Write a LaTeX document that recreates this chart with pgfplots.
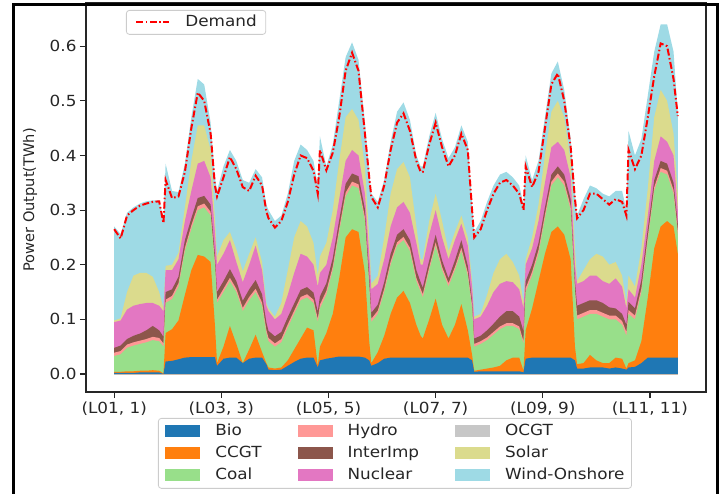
\documentclass[border=0pt]{standalone}
\usepackage{fontspec}
\setmainfont{DejaVu Sans}
\newfontfamily\wfont{DejaVu Sans}[FakeStretch=1.1]
\usepackage{pgfplots}
\usepackage{pgfplotstable}
\pgfplotsset{compat=1.18}
\definecolor{cBio}{HTML}{1F77B4}
\definecolor{cCCGT}{HTML}{FF7F0E}
\definecolor{cCoal}{HTML}{98DF8A}
\definecolor{cHydro}{HTML}{FF9896}
\definecolor{cInter}{HTML}{8C564B}
\definecolor{cNuc}{HTML}{E377C2}
\definecolor{cOCGT}{HTML}{C7C7C7}
\definecolor{cSolar}{HTML}{DBDB8D}
\definecolor{cWind}{HTML}{9EDAE5}
% cumulative tops of the stacked layers (TWh) and demand
\pgfplotstableread{
i bio ccgt coal hydro inter nuc sol wind dem
0 0.002 0.004 0.033 0.039 0.048 0.095 0.098 0.270 0.265
3 0.002 0.004 0.036 0.042 0.052 0.098 0.102 0.256 0.248
6 0.002 0.005 0.048 0.054 0.064 0.118 0.150 0.295 0.290
9 0.002 0.005 0.052 0.058 0.070 0.125 0.180 0.305 0.300
12 0.003 0.006 0.055 0.061 0.074 0.128 0.185 0.312 0.308
15 0.003 0.006 0.058 0.064 0.080 0.130 0.185 0.316 0.312
18 0.003 0.007 0.062 0.068 0.088 0.130 0.178 0.318 0.315
21 0.003 0.006 0.060 0.066 0.080 0.125 0.150 0.318 0.316
23 0.000 0.001 0.050 0.056 0.068 0.115 0.120 0.282 0.276
24 0.023 0.075 0.130 0.136 0.150 0.190 0.198 0.385 0.355
27 0.024 0.082 0.137 0.143 0.155 0.190 0.200 0.335 0.322
30 0.027 0.098 0.160 0.166 0.178 0.210 0.222 0.333 0.325
33 0.030 0.145 0.225 0.231 0.245 0.280 0.305 0.385 0.370
36 0.031 0.190 0.265 0.272 0.285 0.335 0.390 0.470 0.450
39 0.031 0.218 0.300 0.307 0.322 0.385 0.455 0.540 0.515
42 0.031 0.215 0.305 0.312 0.326 0.390 0.455 0.530 0.500
45 0.031 0.205 0.290 0.297 0.310 0.360 0.410 0.460 0.440
47 0.031 0.090 0.200 0.206 0.220 0.260 0.285 0.360 0.345
48 0.015 0.020 0.130 0.136 0.150 0.200 0.215 0.335 0.325
51 0.028 0.050 0.150 0.156 0.170 0.220 0.245 0.380 0.360
54 0.030 0.088 0.170 0.176 0.192 0.245 0.260 0.410 0.397
57 0.030 0.055 0.150 0.156 0.170 0.205 0.228 0.390 0.375
60 0.020 0.020 0.115 0.121 0.134 0.168 0.188 0.355 0.342
63 0.028 0.045 0.135 0.141 0.155 0.200 0.220 0.350 0.335
66 0.030 0.072 0.150 0.156 0.172 0.235 0.250 0.375 0.363
69 0.030 0.040 0.125 0.131 0.146 0.190 0.205 0.360 0.345
71 0.018 0.020 0.075 0.081 0.095 0.125 0.130 0.310 0.298
72 0.008 0.012 0.060 0.066 0.079 0.115 0.120 0.300 0.285
75 0.007 0.010 0.050 0.056 0.069 0.100 0.105 0.280 0.268
78 0.008 0.012 0.058 0.064 0.077 0.110 0.130 0.290 0.280
81 0.015 0.025 0.085 0.091 0.104 0.145 0.190 0.330 0.315
84 0.022 0.045 0.110 0.116 0.129 0.185 0.250 0.390 0.365
87 0.028 0.065 0.135 0.141 0.154 0.220 0.280 0.420 0.400
90 0.030 0.085 0.140 0.146 0.159 0.215 0.270 0.410 0.395
93 0.030 0.080 0.130 0.136 0.149 0.200 0.240 0.390 0.372
95 0.012 0.015 0.095 0.101 0.114 0.160 0.180 0.345 0.330
96 0.025 0.050 0.120 0.127 0.142 0.185 0.215 0.435 0.410
99 0.028 0.075 0.145 0.152 0.166 0.200 0.240 0.380 0.373
102 0.030 0.110 0.190 0.197 0.212 0.250 0.300 0.420 0.405
105 0.032 0.175 0.260 0.267 0.282 0.320 0.390 0.500 0.470
108 0.032 0.250 0.325 0.332 0.348 0.390 0.470 0.580 0.555
111 0.032 0.265 0.345 0.352 0.367 0.410 0.485 0.607 0.588
114 0.032 0.260 0.340 0.347 0.362 0.400 0.465 0.575 0.555
117 0.030 0.185 0.280 0.287 0.302 0.330 0.380 0.460 0.440
119 0.025 0.060 0.160 0.167 0.182 0.220 0.250 0.370 0.360
120 0.015 0.020 0.095 0.101 0.112 0.155 0.165 0.330 0.324
123 0.020 0.040 0.110 0.116 0.127 0.165 0.180 0.315 0.305
126 0.028 0.070 0.150 0.156 0.168 0.210 0.250 0.355 0.345
129 0.030 0.110 0.200 0.206 0.220 0.270 0.330 0.425 0.410
132 0.030 0.140 0.235 0.241 0.255 0.305 0.375 0.480 0.460
135 0.030 0.152 0.245 0.251 0.265 0.315 0.388 0.497 0.477
138 0.030 0.130 0.225 0.231 0.245 0.295 0.360 0.465 0.445
141 0.030 0.090 0.170 0.176 0.190 0.240 0.270 0.400 0.390
143 0.030 0.070 0.150 0.156 0.168 0.200 0.210 0.380 0.370
144 0.030 0.065 0.140 0.146 0.158 0.200 0.210 0.380 0.370
147 0.030 0.100 0.190 0.196 0.208 0.255 0.280 0.435 0.420
150 0.030 0.138 0.235 0.241 0.255 0.300 0.330 0.478 0.460
153 0.030 0.090 0.190 0.196 0.208 0.250 0.280 0.430 0.415
156 0.030 0.065 0.160 0.166 0.175 0.210 0.225 0.395 0.380
159 0.030 0.090 0.190 0.196 0.208 0.245 0.260 0.415 0.400
162 0.030 0.128 0.225 0.231 0.245 0.275 0.290 0.455 0.440
165 0.030 0.080 0.180 0.186 0.198 0.235 0.250 0.425 0.410
167 0.025 0.035 0.120 0.126 0.135 0.160 0.170 0.310 0.300
168 0.004 0.006 0.050 0.055 0.065 0.100 0.105 0.260 0.250
171 0.005 0.008 0.055 0.060 0.070 0.105 0.110 0.280 0.265
174 0.005 0.010 0.062 0.067 0.080 0.125 0.145 0.315 0.300
177 0.005 0.012 0.072 0.077 0.092 0.150 0.185 0.345 0.330
180 0.005 0.015 0.082 0.087 0.105 0.165 0.210 0.365 0.350
183 0.005 0.025 0.088 0.093 0.115 0.170 0.220 0.370 0.355
186 0.005 0.030 0.088 0.093 0.115 0.168 0.205 0.360 0.345
189 0.005 0.030 0.082 0.087 0.105 0.155 0.180 0.345 0.330
191 0.003 0.006 0.055 0.060 0.078 0.120 0.130 0.310 0.300
192 0.028 0.080 0.150 0.157 0.170 0.200 0.210 0.400 0.380
195 0.030 0.120 0.180 0.187 0.200 0.230 0.250 0.355 0.342
198 0.030 0.170 0.220 0.227 0.240 0.280 0.310 0.390 0.370
201 0.030 0.220 0.285 0.292 0.305 0.350 0.400 0.470 0.450
204 0.030 0.260 0.345 0.352 0.365 0.415 0.480 0.550 0.530
207 0.030 0.270 0.360 0.367 0.380 0.425 0.500 0.572 0.550
210 0.030 0.255 0.345 0.352 0.365 0.410 0.470 0.520 0.500
213 0.030 0.210 0.300 0.307 0.320 0.360 0.390 0.430 0.415
215 0.025 0.050 0.150 0.157 0.170 0.200 0.230 0.330 0.320
216 0.010 0.018 0.100 0.107 0.125 0.165 0.170 0.290 0.285
219 0.010 0.020 0.105 0.112 0.130 0.170 0.190 0.320 0.300
222 0.012 0.035 0.110 0.117 0.135 0.180 0.210 0.345 0.330
225 0.012 0.025 0.110 0.117 0.135 0.180 0.220 0.340 0.330
228 0.012 0.020 0.105 0.112 0.130 0.170 0.215 0.330 0.320
231 0.010 0.020 0.100 0.107 0.122 0.165 0.200 0.325 0.310
234 0.012 0.030 0.100 0.107 0.120 0.175 0.205 0.335 0.320
237 0.010 0.028 0.090 0.097 0.110 0.160 0.180 0.335 0.315
239 0.008 0.010 0.070 0.077 0.090 0.120 0.130 0.300 0.290
240 0.012 0.020 0.110 0.117 0.132 0.155 0.180 0.445 0.410
243 0.013 0.025 0.100 0.107 0.120 0.140 0.160 0.400 0.375
246 0.020 0.060 0.150 0.157 0.172 0.200 0.230 0.430 0.400
249 0.030 0.140 0.245 0.252 0.266 0.290 0.340 0.510 0.470
252 0.030 0.230 0.335 0.342 0.355 0.390 0.470 0.590 0.545
255 0.030 0.270 0.370 0.377 0.390 0.435 0.520 0.640 0.605
258 0.030 0.280 0.365 0.372 0.385 0.425 0.500 0.640 0.600
261 0.030 0.270 0.330 0.337 0.350 0.400 0.440 0.590 0.540
263 0.030 0.220 0.255 0.262 0.275 0.300 0.330 0.478 0.472
}\gen

\begin{document}
\begin{tikzpicture}
\useasboundingbox (-86bp,-102bp) rectangle (636bp,392bp);
\begin{axis}[
  at={(0bp,0bp)}, anchor=south west, scale only axis,
  width=620bp, height=389bp,
  xmin=-13.15, xmax=276.15, ymin=-0.0329, ymax=0.679,
  axis line style={line width=1.1bp, black!85},
  tick align=outside, tick pos=left, major tick length=6bp,
  every tick/.style={line width=1.1bp, black!85},
  xtick={0,50,100,150,200,250},
  xticklabels={{(L01, 1)},{(L03, 3)},{(L05, 5)},{(L07, 7)},{(L09, 9)},{(L11, 11)}},
  ytick={0,0.1,0.2,0.3,0.4,0.5,0.6},
  yticklabels={0.0,0.1,0.2,0.3,0.4,0.5,0.6},
  /pgf/number format/assume math mode=true,
  tick label style={font=\wfont\fontsize{15.3bp}{18bp}\selectfont, text=black!85},
  ylabel={Power Output(TWh)},
  ylabel style={at={(axis description cs:-0.0903,0.494)}, anchor=center, font=\fontsize{14.6bp}{17bp}\selectfont, text=black!85},
  legend image code/.code={\fill[#1, draw=none, sharp corners] (0bp,-6bp) rectangle (35bp,6bp);},
  legend columns=3, transpose legend, legend cell align=left,
  legend style={
    at={(axis description cs:0.1161,-0.0668)}, anchor=north west,
    draw=black!20, line width=0.8bp, fill=white, rounded corners=3bp,
    inner xsep=7bp, inner ysep=6bp,
    font=\wfont\fontsize{15.3bp}{18bp}\selectfont, text=black!85,
    nodes={inner sep=0bp, text height=11bp, text depth=3bp},
    row sep=8bp,
    /tikz/every odd column/.append style={column sep=15bp},
    /tikz/every even column/.append style={column sep=36bp},
  },
]
\addplot[fill=cWind, draw=none, forget plot] table[x=i, y=wind]{\gen} \closedcycle;
\addplot[fill=cSolar, draw=none, forget plot] table[x=i, y=sol]{\gen} \closedcycle;
\addplot[fill=cNuc, draw=none, forget plot] table[x=i, y=nuc]{\gen} \closedcycle;
\addplot[fill=cInter, draw=none, forget plot] table[x=i, y=inter]{\gen} \closedcycle;
\addplot[fill=cHydro, draw=none, forget plot] table[x=i, y=hydro]{\gen} \closedcycle;
\addplot[fill=cCoal, draw=none, forget plot] table[x=i, y=coal]{\gen} \closedcycle;
\addplot[fill=cCCGT, draw=none, forget plot] table[x=i, y=ccgt]{\gen} \closedcycle;
\addplot[fill=cBio, draw=none, forget plot] table[x=i, y=bio]{\gen} \closedcycle;
\addlegendimage{fill=cBio}\addlegendentry{Bio}
\addlegendimage{fill=cCCGT}\addlegendentry{CCGT}
\addlegendimage{fill=cCoal}\addlegendentry{Coal}
\addlegendimage{fill=cHydro}\addlegendentry{Hydro}
\addlegendimage{fill=cInter}\addlegendentry{InterImp}
\addlegendimage{fill=cNuc}\addlegendentry{Nuclear}
\addlegendimage{fill=cOCGT}\addlegendentry{OCGT}
\addlegendimage{fill=cSolar}\addlegendentry{Solar}
\addlegendimage{fill=cWind}\addlegendentry{Wind-Onshore}
\end{axis}
\begin{axis}[
  at={(0bp,0bp)}, anchor=south west, scale only axis,
  width=620bp, height=389bp,
  xmin=-13.15, xmax=276.15, ymin=-0.0329, ymax=0.679,
  hide axis,
  legend image code/.code={\draw[#1, sharp corners] (0bp,0bp) -- (33bp,0bp);},
  legend style={
    at={(axis description cs:0.0645,0.982)}, anchor=north west,
    draw=black!20, line width=0.8bp, fill=white, rounded corners=3bp,
    inner xsep=9bp, inner ysep=5bp,
    font=\wfont\fontsize{15.3bp}{18bp}\selectfont, text=black!85,
    nodes={inner sep=0bp, text height=11bp, text depth=3bp},
    /tikz/every odd column/.append style={column sep=15bp},
  },
]
\addplot[color=red, line width=2bp, dash pattern=on 7bp off 2.5bp on 1.5bp off 2.5bp] table[x=i, y=dem]{\gen};
\addlegendentry{Demand}
\end{axis}
\draw[line width=3bp, black] (-72.7bp,-103bp) -- (-72.7bp,387.8bp) -- (631.5bp,387.8bp) -- (631.5bp,-103bp);
\end{tikzpicture}
\end{document}
